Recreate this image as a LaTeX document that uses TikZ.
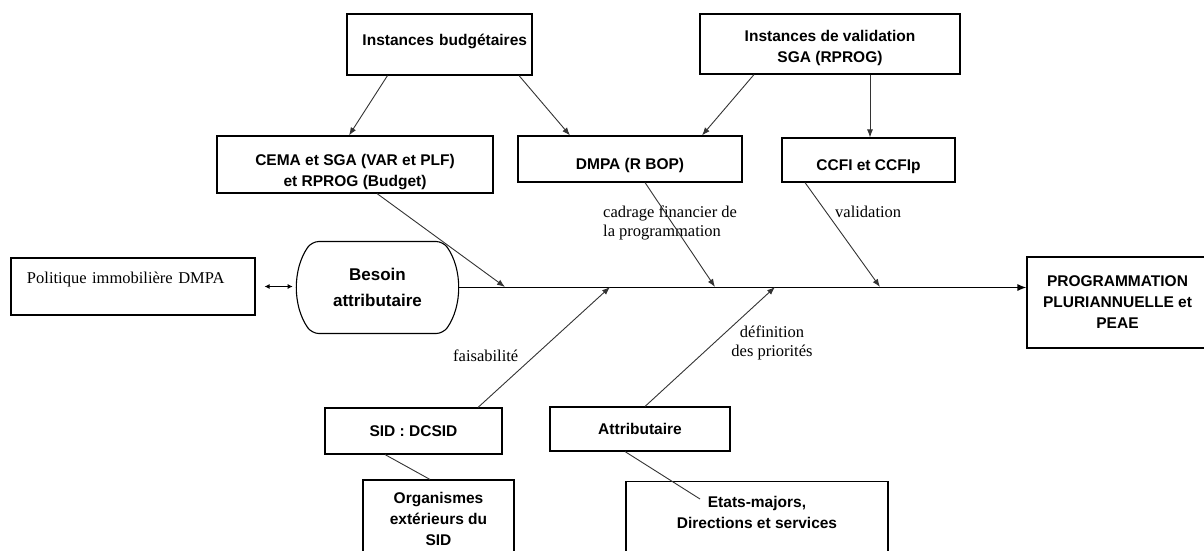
\documentclass[tikz,border=0pt]{standalone}
\usepackage{fontspec}
\setmainfont{Liberation Serif}
\newfontfamily\arialfont{Liberation Sans}
\usetikzlibrary{arrows.meta,shapes.misc}

\begin{document}
\begin{tikzpicture}[x=1pt, y=-1pt,
    box/.style={draw, line width=1.1pt, inner sep=2pt, align=center,
        font=\arialfont\bfseries\fontsize{15.5}{21}\selectfont},
    note/.style={inner sep=0pt, font=\fontsize{16.5}{19}\selectfont},
    fleche/.style={-{Latex[length=8pt,width=6pt]}, line width=0.9pt, black!80},
    trait/.style={line width=0.9pt, black!80}]
    \useasboundingbox (0,0) rectangle (1204,550);
    \begin{scope}
    \node[box, minimum height=61, text width=175, align=right, inner xsep=5pt,
        text height=11, text depth=10] (ib) at (439.5,44.5) {Instances budgétaires};
    \node[box, minimum width=260, minimum height=60, text height=39, text depth=3]
        (iv) at (830,44) {Instances de validation\\SGA (RPROG)};
    \node[box, minimum width=276, minimum height=57, text height=46, text depth=3]
        (cema) at (355,164.5) {CEMA et SGA (VAR et PLF)\\et RPROG (Budget)};
    \node[box, minimum width=224, minimum height=46, text height=23, text depth=3]
        (dmpa) at (630,159) {DMPA (R BOP)};
    \node[box, minimum width=173, minimum height=44, text height=23, text depth=3]
        (ccfi) at (868.5,160) {CCFI et CCFIp};
    \node[box, font=\fontsize{16.5}{19}\selectfont, text width=212, align=left,
        inner xsep=16pt, minimum height=57, text height=10, text depth=16]
        (pol) at (133,286.5) {Politique immobilière DMPA};
    \node[box, rounded rectangle, rounded rectangle arc length=70, rounded corners=7pt,
        font=\arialfont\bfseries\fontsize{17}{26}\selectfont,
        minimum width=161, minimum height=92] (besoin) at (377.5,287.5)
        {Besoin\\attributaire};
    \node[box, minimum width=181, minimum height=91] (prog) at (1117.5,302.5)
        {PROGRAMMATION\\PLURIANNUELLE et\\PEAE};
    \node[box, minimum width=177, minimum height=46] (sid) at (413.5,431) {SID : DCSID};
    \node[box, minimum width=180, minimum height=44] (attr) at (640,429) {Attributaire};
    \node[box, minimum width=151, minimum height=78] (org) at (438.5,519)
        {Organismes\\extérieurs du\\SID};
    \node[box, anchor=north, minimum width=262, text height=45, text depth=30]
        (etat) at (757,481) {Etats-majors,\\Directions et services};
    \end{scope}
    \node[note, anchor=west, align=left] (lcad) at (603,222.5)
        {cadrage financier de\\la programmation};
    \node[note, anchor=west] (lval) at (835,212) {validation};
    \node[note, anchor=west] (lfai) at (453,356) {faisabilité};
    \node[note, align=center] (ldef) at (772,342.5) {définition\\des priorités};
    \coordinate (s1) at (505,287);
    \coordinate (s2) at (610,287);
    \coordinate (s3) at (715,287);
    \coordinate (s4) at (775,287);
    \coordinate (s5) at (880,287);
    \coordinate (e1) at (700,499);
    \draw[-{Latex[length=9pt,width=7pt]}, line width=1.3pt]
        (besoin.east) -- (besoin.east -| prog.west);
    \draw[{Latex[length=5pt,width=5pt]}-{Latex[length=5pt,width=5pt]}, line width=1.1pt,
        shorten <=9pt, shorten >=4pt] (pol.east) -- (pol.east -| besoin.west);
    \draw[fleche] ([xshift=-52pt]ib.south) -- ([xshift=-6pt]cema.north);
    \draw[fleche] ([xshift=79.5pt]ib.south) -- ([xshift=-60pt]dmpa.north);
    \draw[fleche] ([xshift=-76pt]iv.south) -- ([xshift=72pt]dmpa.north);
    \draw[fleche] ([xshift=40pt]iv.south) -- ([xshift=1.5pt]ccfi.north);
    \draw[fleche] ([xshift=22pt]cema.south) -- (s1);
    \draw[fleche] ([xshift=15pt]dmpa.south) -- (s3);
    \draw[fleche] ([xshift=-63.5pt]ccfi.south) -- (s5);
    \draw[fleche] ([xshift=64.5pt]sid.north) -- (s2);
    \draw[fleche] ([xshift=5pt]attr.north) -- (s4);
    \draw[trait] ([xshift=-28.5pt]sid.south) -- ([xshift=-8.5pt]org.north);
    \draw[trait] ([xshift=-15pt]attr.south) -- (e1);
\end{tikzpicture}
\end{document}
